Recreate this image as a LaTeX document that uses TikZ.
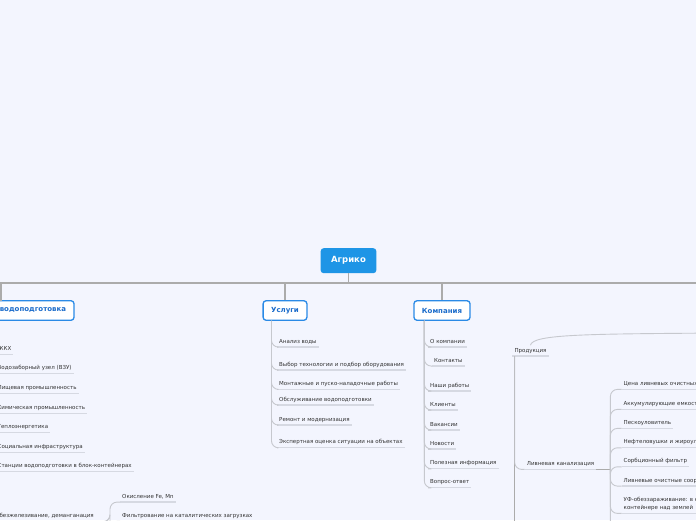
\documentclass[tikz,border=0pt]{standalone}
\usepackage{fontspec}
\setmainfont{DejaVu Sans}
\usepackage{xcolor}
\usetikzlibrary{positioning, calc}

\definecolor{bgcol}{HTML}{F3F5FE}
\definecolor{rootblue}{HTML}{1E95E6}
\definecolor{topicblue}{HTML}{2A8AE6}
\definecolor{topictext}{HTML}{1B6CCB}
\definecolor{trunkgray}{HTML}{ABABAB}
\definecolor{branchgray}{HTML}{C6C8CE}
\definecolor{ulinegray}{HTML}{D6D9E2}
\definecolor{leaftext}{HTML}{333333}

\tikzset{
  rootbox/.style={fill=rootblue, rounded corners=3pt, text=white,
    font=\bfseries\fontsize{8.5}{10}\selectfont, inner xsep=10.5pt,
    inner ysep=0pt, minimum height=25pt},
  topicbox/.style={draw=topicblue, line width=1.3pt, fill=white,
    rounded corners=3pt, text=topictext,
    font=\bfseries\fontsize{7}{8}\selectfont, inner xsep=8pt,
    inner ysep=0pt, minimum height=19.5pt},
  leaf/.style={anchor=base west, text=leaftext,
    font=\fontsize{5.5}{7.6}\selectfont, inner xsep=2pt, inner ysep=2.6pt,
    text depth=1.3pt, align=left},
  uline/.style={ulinegray, line width=1.3pt},
  trunk/.style={trunkgray, line width=1.6pt},
  branch/.style={branchgray, line width=0.9pt, rounded corners=7pt},
}

\begin{document}
\begin{tikzpicture}[x=1pt, y=-1pt]
  \clip (0,0) rectangle (696,520);
  \fill[bgcol] (0,0) rectangle (696,520);

  %--- root and first level ---
  \node[rootbox] (root) at (348.5,260.7) {Агрико};
  \node[topicbox, anchor=east] (vodo) at (74.7,310.5) {водоподготовка};
  \node[topicbox] (usl) at (285,310.5) {Услуги};
  \node[topicbox] (komp) at (442,310.5) {Компания};
  \coordinate (vodotop) at (1,301);
  \coordinate (offright) at (760,301);
  \foreach \child in {vodotop, usl.north, komp.north, offright}
    \draw[trunk] (root.south) -- ++(0,9.5) -| (\child);

  %--- Услуги ---
  \coordinate (uslfork) at ([xshift=9pt]usl.south west);
  \foreach \name/\y/\txt in {
      an/343/Анализ воды,
      vyb/366/Выбор технологии и подбор оборудования,
      mont/385.3/Монтажные и пуско-наладочные работы,
      obsl/401/Обслуживание водоподготовки,
      rem/421/Ремонт и модернизация,
      eksp/443.7/Экспертная оценка ситуации на объектах} {
    \node[leaf] (\name) at (277,\y) {\txt};
    \draw[uline] (\name.south west) -- (\name.south east);
    \draw[branch] (uslfork) |- (\name.south west);
  }

  %--- Компания ---
  \coordinate (kompfork) at ([xshift=11pt]komp.south west);
  \foreach \name/\y/\x/\txt in {
      okomp/343/428/О компании,
      kont/362/432/Контакты,
      nashi/387/428/Наши работы,
      klient/406/428/Клиенты,
      vak/426/428/Вакансии,
      novo/445/428/Новости,
      polez/464.7/428/Полезная информация,
      vopros/483.7/428/Вопрос-ответ} {
    \node[leaf] (\name) at (\x,\y) {\txt};
    \draw[uline] (\name.south west) -- (\name.south east);
    \draw[branch] (kompfork) |- (\name.south west);
  }

  %--- водоподготовка ---
  \coordinate (vodofork) at (-12,320);
  \foreach \name/\y/\txt in {
      zhkh/350.3/ЖКХ,
      vzu/369.7/Водозаборный узел (ВЗУ),
      pishch/389.3/Пищевая промышленность,
      khim/409.3/Химическая промышленность,
      teplo/428.3/Теплоэнергетика,
      soc/448.3/Социальная инфраструктура,
      stanc/467.3/Станции водоподготовки в блок-контейнерах} {
    \node[leaf] (\name) at (-4.5,\y) {\txt};
    \draw[uline] (\name.south west) -- (\name.south east);
    \draw[branch] (vodofork) |- (\name.south west);
  }
  \node[leaf] (obez) at (-7,517.7) {Обезжелезивание, деманганация};
  \draw[uline] (obez.south west) -- (obez.south east);
  \draw[branch] (vodofork) |- (obez.south west);
  \foreach \name/\y/\txt in {
      okisl/498/{Окисление Fe, Mn},
      filtr/517.3/Фильтрование на каталитических загрузках} {
    \node[leaf] (\name) at (120,\y) {\txt};
    \draw[uline] (\name.south west) -- (\name.south east);
    \draw[branch] (obez.south east) -- ++(14,0) |- (\name.south west);
  }

  %--- Продукция ---
  \coordinate (prodsrc) at (720,333);
  \coordinate (prodmore) at (514.7,545);
  \node[leaf] (prod) at (512.3,352) {Продукция};
  \draw[uline] (prod.south west) -- (prod.south east);
  \draw[branch] (prodsrc) .. controls (590,334) and (532,334) .. (prod.north);
  \draw[trunkgray, line width=1.3pt] ([xshift=2.4pt]prod.south west) -- (prodmore);
  \node[leaf] (liv) at (524.7,465.3) {Ливневая канализация};
  \draw[uline] (liv.south west) -- (liv.south east);
  \draw[branch] ([xshift=2.4pt]prod.south west) |- (liv.south west);

  %--- Ливневая канализация ---
  \draw[trunkgray, line width=1.6pt] (liv.south east) -- ++(14,0) coordinate (livfork);
  \coordinate (livmore) at (640,545);
  \foreach \name/\y/\txt in {
      cena/385.3/Цена ливневых очистных сооружений,
      akk/405.3/Аккумулирующие емкости,
      pesk/424.3/Пескоуловитель,
      neft/443.7/Нефтеловушки и жироуловители,
      sorb/462.7/Сорбционный фильтр,
      livoch/482/Ливневые очистные сооружения,
      uf/509.3/{УФ-обеззараживание: в колодце или\\контейнере над землей}} {
    \node[leaf] (\name) at (621.5,\y) {\txt};
    \draw[uline] (\name.south west) -- (\name.south east);
    \draw[branch] (livfork) |- (\name.south west);
  }
  \draw[branch] (livfork) |- (livmore);
\end{tikzpicture}
\end{document}
